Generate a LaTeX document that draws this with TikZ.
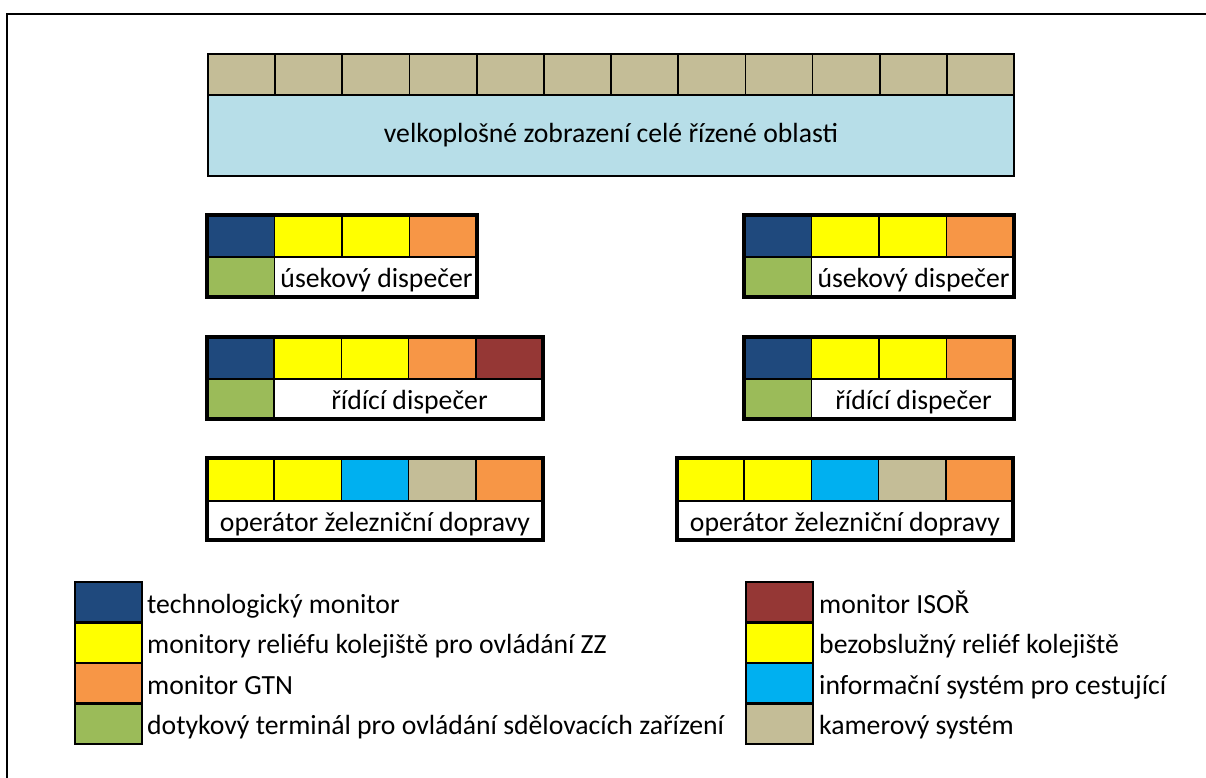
\documentclass[tikz,border=0pt]{standalone}
\usepackage{fontspec}
\setmainfont{Carlito}
\usepackage{xcolor}
\usepackage{tikz}

\definecolor{techblue}{HTML}{1F497D}
\definecolor{reliefyellow}{HTML}{FFFF00}
\definecolor{gtnorange}{HTML}{F79646}
\definecolor{touchgreen}{HTML}{9BBB59}
\definecolor{isorred}{HTML}{953735}
\definecolor{infocyan}{HTML}{00B0F0}
\definecolor{camerabeige}{HTML}{C4BD97}
\definecolor{wallblue}{HTML}{B7DEE8}

\begin{document}
\begin{tikzpicture}[x=1pt,y=-1pt]
  \tikzstyle{cell}=[draw, line width=1.7pt] % thin lines between screens
  \tikzstyle{rim}=[draw, line width=3.4pt] % heavy outline round a desk
  \tikzstyle{key}=[draw, line width=2.4pt] % legend swatches
  \tikzstyle{txt}=[anchor=base, inner sep=0pt, font=\fontsize{27.7}{33}\selectfont]
  \useasboundingbox (0,0) rectangle (1206,778);
  \draw[line width=1.6pt] (7,790) -- (7,14) -- (1216,14);

  % video wall
  \foreach \i in {0,...,11}
    \draw[cell, fill=camerabeige] ({208+\i*67.17},54) rectangle ++(67.17,41);
  \draw[cell, fill=wallblue] (208,95) rectangle (1014,176);
  \node[txt] (wall) at (611,143) {velkoplošné zobrazení celé řízené oblasti};

  % section dispatchers
  \foreach \x in {207,744} {
    \foreach \c [count=\i from 0] in {techblue,reliefyellow,reliefyellow,gtnorange}
      \draw[cell, fill=\c] ({\x+\i*67.5},215) rectangle ++(67.5,42);
    \draw[cell, fill=touchgreen] (\x,257) rectangle ++(67.5,40);
    \draw[rim] (\x,215) rectangle ++(270,82);
  }
  \node[txt] (usek1) at (376.5,287) {úsekový dispečer};
  \node[txt] (usek2) at (913.5,287) {úsekový dispečer};

  % control dispatchers
  \foreach \x/\w/\cols in {207/67.2/{techblue,reliefyellow,reliefyellow,gtnorange,isorred},
                           744/67.5/{techblue,reliefyellow,reliefyellow,gtnorange}} {
    \foreach \c [count=\i from 0] in \cols
      \draw[cell, fill=\c] ({\x+\i*\w},337) rectangle ++(\w,42);
    \draw[cell, fill=touchgreen] (\x,379) rectangle ++(\w,40);
  }
  \draw[rim] (207,337) rectangle (543,419);
  \draw[rim] (744,337) rectangle (1014,419);
  \node[txt] (ridi1) at (409.5,409) {řídící dispečer};
  \node[txt] (ridi2) at (913.5,409) {řídící dispečer};

  % train operators
  \foreach \x in {207,677} {
    \foreach \c [count=\i from 0] in {reliefyellow,reliefyellow,infocyan,camerabeige,gtnorange}
      \draw[cell, fill=\c] ({\x+\i*67.2},458) rectangle ++(67.2,43);
    \draw[rim] (\x,458) rectangle ++(336,82);
  }
  \node[txt] (oper1) at (375,531) {operátor železniční dopravy};
  \node[txt] (oper2) at (845,531) {operátor železniční dopravy};

  % legend, two columns
  \foreach \c/\t [count=\i from 0] in {techblue/technologický monitor,
      reliefyellow/monitory reliéfu kolejiště pro ovládání ZZ,
      gtnorange/monitor GTN,
      touchgreen/dotykový terminál pro ovládání sdělovacích zařízení} {
    \draw[key, fill=\c] (75,{582+\i*40.5}) rectangle ++(67,40.5);
    \node[txt, anchor=base west] (keyl\i) at (147,{613+\i*40.5}) {\t};
  }
  \foreach \c/\t [count=\i from 0] in {isorred/monitor ISOŘ,
      reliefyellow/bezobslužný reliéf kolejiště,
      infocyan/informační systém pro cestující,
      camerabeige/kamerový systém} {
    \draw[key, fill=\c] (746,{582+\i*40.5}) rectangle ++(67,40.5);
    \node[txt, anchor=base west] (keyr\i) at (819,{613+\i*40.5}) {\t};
  }
\end{tikzpicture}
\end{document}
